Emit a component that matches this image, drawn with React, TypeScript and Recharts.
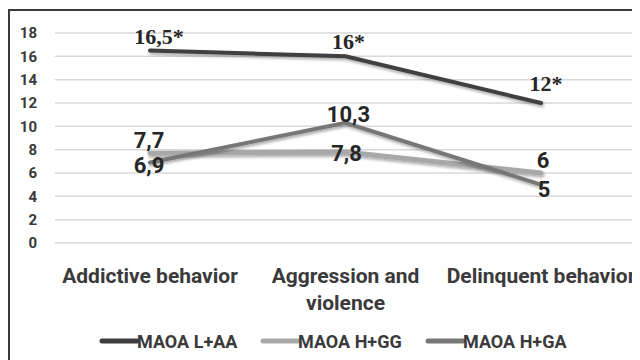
import { LineChart, Line, XAxis, YAxis, CartesianGrid, Legend, LabelList } from "recharts";

const CATEGORIES = ["Addictive behavior", "Aggression and violence", "Delinquent behavior"];
const MAOA_L_AA = [16.5, 16, 12];
const MAOA_H_GG = [7.7, 7.8, 6];
const MAOA_H_GA = [6.9, 10.3, 5];
const L_AA_LABELS = ["16,5*", "16*", "12*"];
const H_GG_LABELS = ["7,7", "7,8", "6"];
const H_GA_LABELS = ["6,9", "10,3", "5"];
const Y_TICKS = [0, 2, 4, 6, 8, 10, 12, 14, 16, 18];

const data = CATEGORIES.map((c, i) => ({
  name: c,
  laa: MAOA_L_AA[i],
  hgg: MAOA_H_GG[i],
  hga: MAOA_H_GA[i],
  laaLabel: L_AA_LABELS[i],
  hggLabel: H_GG_LABELS[i],
  hgaLabel: H_GA_LABELS[i],
}));

const SANS = "'Liberation Sans Narrow', 'Roboto', sans-serif";
const SERIF = "'Liberation Serif', 'DejaVu Serif', serif";

const SERIES = [
  { key: "laa", label: "laaLabel", name: "MAOA L+AA", color: "#3f3f3f", width: 4, font: SERIF, size: 22, dx: [9, 3, 5], dy: [-12, -12, -17] },
  { key: "hgg", label: "hggLabel", name: "MAOA H+GG", color: "#a8a8a8", width: 5, font: SANS, size: 22, dx: [-1, 1, 2], dy: [-11, 3, -11] },
  { key: "hga", label: "hgaLabel", name: "MAOA H+GA", color: "#777777", width: 4, font: SANS, size: 22, dx: [-1, 3, 3], dy: [5, -7, 7] },
] as const;

// legend icon start / length, in chart px
const LEGEND_POS = [
  { x: 92, len: 35 },
  { x: 253, len: 35 },
  { x: 418, len: 35 },
];

function CategoryTick({ x, y, payload }: any) {
  const text: string = payload.value;
  const lines = text === "Aggression and violence" ? ["Aggression and", "violence"] : [text];
  return (
    <text x={x} y={y} textAnchor="middle" fill="#3a3a3a" fontFamily={SANS} fontWeight="bold" fontSize={21}>
      {lines.map((l, i) => (
        <tspan key={i} x={x} dy={i === 0 ? 32 : 27}>
          {l}
        </tspan>
      ))}
    </text>
  );
}

function makeLabel(s: (typeof SERIES)[number]) {
  return (props: any) => {
    const { x, y, value, index } = props;
    return (
      <text
        x={x + s.dx[index]}
        y={y + s.dy[index]}
        textAnchor="middle"
        dominantBaseline="middle"
        fontFamily={s.font}
        fontWeight="bold"
        fontSize={s.size}
        fill="#262626"
      >
        {value}
      </text>
    );
  };
}

function LegendContent() {
  return (
    <svg width={630} height={24}>
      {SERIES.map((s, i) => (
        <g key={s.key}>
          <line
            x1={LEGEND_POS[i].x}
            y1={12}
            x2={LEGEND_POS[i].x + LEGEND_POS[i].len}
            y2={12}
            stroke={s.color}
            strokeWidth={5}
            strokeLinecap="round"
          />
          <text x={LEGEND_POS[i].x + LEGEND_POS[i].len} y={18.5} fontFamily={SANS} fontWeight="bold" fontSize={18} fill="#3a3a3a">
            {s.name}
          </text>
        </g>
      ))}
    </svg>
  );
}

export default function App() {
  return (
    <div
      style={{
        width: 640,
        height: 352,
        borderTop: "2px solid #3a3a3a",
        borderLeft: "2px solid #3a3a3a",
        background: "#fff",
        boxSizing: "border-box",
        marginTop: 1,
      }}
    >
      <LineChart width={640} height={350} data={data} margin={{ top: 22, right: 11, left: 0, bottom: 60 }}>
        <defs>
          <filter id="shadow" x="-10%" y="-50%" width="120%" height="200%">
            <feDropShadow dx="1" dy="2" stdDeviation="1.5" floodColor="#000" floodOpacity="0.35" />
          </filter>
        </defs>
        <CartesianGrid vertical={false} stroke="#d9d9d9" strokeWidth={1.5} />
        <XAxis
          dataKey="name"
          axisLine={false}
          tickLine={false}
          tick={<CategoryTick />}
          interval={0}
          padding={{ left: 95, right: 98 }}
        />
        <YAxis
          domain={[0, 18]}
          ticks={Y_TICKS}
          interval={0}
          width={45}
          axisLine={false}
          tickLine={false}
          tick={{ fontSize: 15, fontWeight: "bold", fill: "#3a3a3a", fontFamily: SANS, dx: -10 }}
        />
        <Legend content={<LegendContent />} wrapperStyle={{ position: "absolute", left: 0, top: 318, width: 630 }} />
        {SERIES.map((s) => (
          <Line
            key={s.key}
            dataKey={s.key}
            name={s.name}
            stroke={s.color}
            strokeWidth={s.width}
            strokeLinecap="round"
            dot={false}
            activeDot={false}
            filter="url(#shadow)"
            isAnimationActive={false}
          >
            <LabelList dataKey={s.label} content={makeLabel(s)} />
          </Line>
        ))}
      </LineChart>
    </div>
  );
}
